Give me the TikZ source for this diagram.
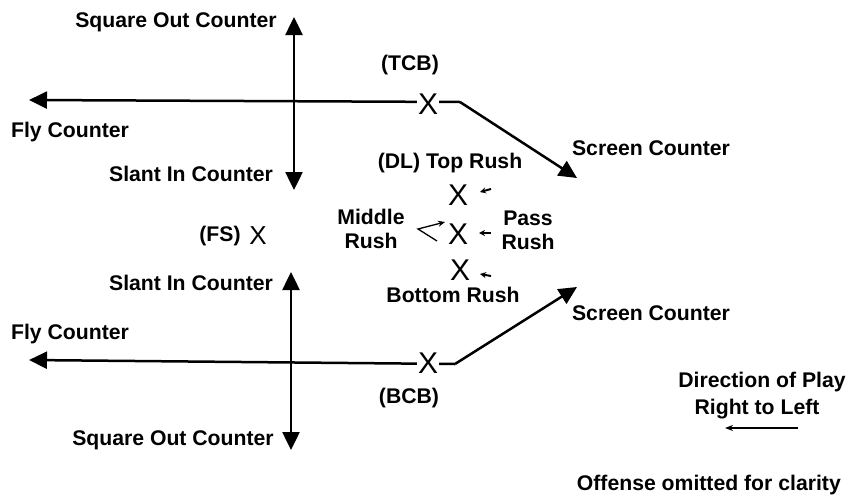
\documentclass[tikz,border=0pt]{standalone}
\usepackage{fontspec}
\setmainfont{Liberation Sans}
\usetikzlibrary{arrows.meta}
\tikzset{
  lbl/.style={font=\fontsize{21.2}{23}\selectfont\bfseries, inner sep=0pt},
  player/.style={font=\fontsize{30}{31}\selectfont, inner sep=0pt},
  route/.style={line width=2.5pt, -{Triangle[length=18pt,width=17pt]}},
  route2/.style={line width=2.5pt, {Triangle[length=18pt,width=17pt]}-{Triangle[length=18pt,width=17pt]}},
  small/.style={line width=2pt, -{Stealth[length=6pt,width=6pt]}},
}
\begin{document}
\begin{tikzpicture}[x=1pt,y=-1pt]
\useasboundingbox (0,0) rectangle (846,501);
% --- top half ---
\coordinate (tleft) at (29,100);
\coordinate (tcorner) at (460,102);
\coordinate (tscreen) at (577,178);
\coordinate (vtop1) at (294,17);
\coordinate (vbot1) at (294,190);
\draw[route] (tcorner) -- (tleft);
\draw[route] (tcorner) -- (tscreen);
\draw[route2] (vtop1) -- (vbot1);
\node[player, fill=white, inner xsep=1pt] (tcb) at (428,104) {X};
\node[lbl] (tcbl) at (410,65) {(TCB)};
\node[lbl] (sq1) at (176,22) {Square Out Counter};
\node[lbl] (fly1) at (70,132) {Fly Counter};
\node[lbl] (sl1) at (191,174) {Slant In Counter};
\node[lbl] (sc1) at (651,148) {Screen Counter};
% --- DL ---
\node[lbl] (dll) at (450,163) {(DL) Top Rush};
\node[player] (dlt) at (458,195) {X};
\node[player] (dlm) at (458,234) {X};
\node[player] (dlb) at (460,270) {X};
\coordinate (at1) at (491,189);
\coordinate (at2) at (491,233);
\coordinate (at3) at (491,276);
\draw[small] (at1) -- ++(-11,3);
\draw[small] (at2) -- ++(-12,0);
\draw[small] (at3) -- ++(-11,-2);
\coordinate (cv1) at (437,241);
\coordinate (cv2) at (418,229);
\coordinate (cv3) at (445,222);
\draw[line width=1.3pt, -{Stealth[length=7pt,width=6pt]}] (cv1) -- (cv2) -- (cv3);
\node[lbl, align=center] (mid) at (371,229) {Middle\\[1pt]Rush};
\node[lbl, align=center] (pass) at (528,230) {Pass\\[1pt]Rush};
\node[lbl] (botr) at (453,295) {Bottom Rush};
\node[lbl] (fsl) at (220,236) {(FS)};
\node[player, font=\fontsize{26}{27}\selectfont] (fs) at (258,236) {X};
% --- bottom half ---
\coordinate (bleft) at (29,360);
\coordinate (bcorner) at (455,364);
\coordinate (bscreen) at (577,287);
\coordinate (vtop2) at (291,272);
\coordinate (vbot2) at (291,450);
\draw[route] (bcorner) -- (bleft);
\draw[route] (bcorner) -- (bscreen);
\draw[route2] (vtop2) -- (vbot2);
\node[player, fill=white, inner xsep=1pt] (bcb) at (428,363) {X};
\node[lbl] (bcbl) at (409,398) {(BCB)};
\node[lbl] (sl2) at (191,283) {Slant In Counter};
\node[lbl] (fly2) at (70,334) {Fly Counter};
\node[lbl] (sc2) at (651,313) {Screen Counter};
\node[lbl] (sq2) at (173,440) {Square Out Counter};
% --- legend ---
\node[lbl] (dir) at (762,382) {Direction of Play};
\node[lbl] (rtl) at (757,409) {Right to Left};
\coordinate (da) at (798,428);
\coordinate (db) at (725,428);
\draw[line width=1.6pt, -{Stealth[length=8pt,width=6pt]}] (da) -- (db);
\node[lbl, anchor=east] (off) at (841,485) {Offense omitted for clarity};
\end{tikzpicture}
\end{document}
